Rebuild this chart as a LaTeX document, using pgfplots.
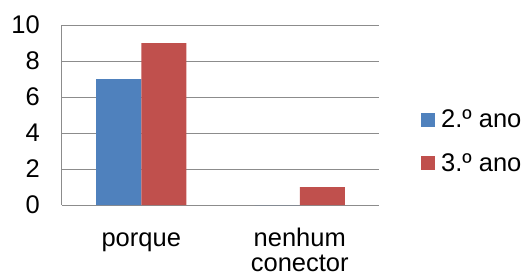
\documentclass[border=0pt]{standalone}
\usepackage{pgfplots}
\pgfplotsset{compat=1.18}
\usepackage{fontspec}
\setmainfont{Liberation Sans}
\definecolor{cblue}{HTML}{4F81BD}
\definecolor{cred}{HTML}{C0504D}
\definecolor{cgrid}{HTML}{8C8C8C}
\begin{document}
\begin{tikzpicture}
\path[use as bounding box] (-62pt,-72pt) rectangle (467pt,205pt);
\begin{axis}[
  at={(0,0)}, anchor=south west,
  scale only axis, width=317pt, height=180pt,
  ybar=0pt, bar width=45pt,
  xmin=-0.5, xmax=1.5, ymin=0, ymax=10,
  xtick={0,1}, xticklabels={\rule{0pt}{19pt}porque, \rule{0pt}{19pt}nenhum\\conector},
  ytick={0,2,4,6,8,10},
  axis lines=left, axis line style={-, draw=cgrid, line width=1pt},
  ymajorgrids, grid style={draw=cgrid, line width=1pt},
  major tick length=0pt,
  /pgf/number format/assume math mode=true,
  every tick label/.append style={font=\fontsize{25.5}{25}\selectfont},
  yticklabel style={inner sep=0pt, xshift=-22pt},
  xticklabel style={align=center, inner sep=0pt, yshift=-22pt},
  legend style={at={(1.1325,0.353)}, anchor=west, draw=none, fill=none, inner sep=0pt,
    font=\fontsize{25.5}{28}\selectfont, row sep=20pt, cells={anchor=west}},
  legend image code/.code={\fill[#1] (0pt,-7pt) rectangle (14pt,7pt); \path (18pt,0pt);},
  legend cell align=left,
]
\addplot[fill=cblue, draw=none] coordinates {(0,7) (1,0)};
\addplot[fill=cred, draw=none] coordinates {(0,9) (1,1)};
\legend{2.º ano, 3.º ano}
\end{axis}
\end{tikzpicture}
\end{document}
